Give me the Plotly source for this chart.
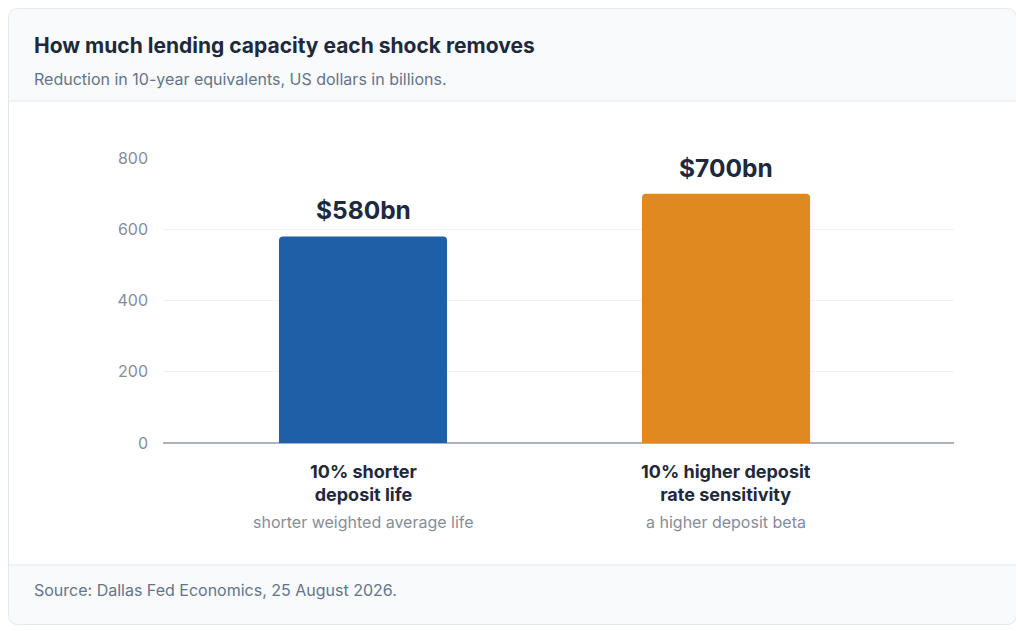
import plotly.graph_objects as go

# data
categories = ["10% shorter<br>deposit life", "10% higher deposit<br>rate sensitivity"]
descriptions = ["shorter weighted average life", "a higher deposit beta"]
values = [580, 700]
value_labels = ["$580bn", "$700bn"]
bar_colors = ["#1f5fa8", "#e0891f"]
y_ticks = [0, 200, 400, 600, 800]

# the page body has an 8px margin, so the figure sits at (8, 8)
OFF = 8
W, H = 1024 - OFF, 631 - OFF
L, R, T, B = 163, 954, 158, 443   # plot area in window pixels

FONT = "Inter, 'Noto Sans', sans-serif"
DARK = "#1e293b"
GREY = "#64748b"
LINE = "#e2e8f0"


def px(x):
    return (x - L) / (R - L)


def py(y):
    return (B - y) / (B - T)


def rounded_rect(x0, y0, x1, y1, r):
    # rounded rectangle path in paper coords
    rx = r / (R - L)
    ry = r / (B - T)
    a, b, c, d = px(x0), px(x1), py(y0), py(y1)
    return (f"M {a} {c - ry} Q {a} {c} {a + rx} {c} L {b - rx} {c} Q {b} {c} {b} {c - ry} "
            f"L {b} {d + ry} Q {b} {d} {b - rx} {d} L {a + rx} {d} Q {a} {d} {a} {d + ry} Z")


fig = go.Figure()

fig.add_trace(go.Bar(
    x=categories, y=values,
    marker=dict(color=bar_colors, cornerradius=4, line=dict(width=0)),
    width=0.463,
    hoverinfo="skip",
))

card = rounded_rect(8.5, 8.5, 1016.5, 624.5, 10)
shapes = [
    # card with header colour, white body, footer colour
    dict(type="path", path=card, xref="paper", yref="paper",
         fillcolor="#f8fafc", line=dict(width=0), layer="below"),
    dict(type="rect", x0=px(8.5), x1=px(1016.5), y0=py(101), y1=py(565), xref="paper", yref="paper",
         fillcolor="white", line=dict(width=0), layer="below"),
    dict(type="line", x0=px(8.5), x1=px(1016.5), y0=py(101), y1=py(101), xref="paper", yref="paper",
         line=dict(color=LINE, width=1), layer="below"),
    dict(type="line", x0=px(8.5), x1=px(1016.5), y0=py(565), y1=py(565), xref="paper", yref="paper",
         line=dict(color=LINE, width=1), layer="below"),
    dict(type="path", path=card, xref="paper", yref="paper",
         fillcolor="rgba(0,0,0,0)", line=dict(color=LINE, width=1), layer="below"),
]

annotations = [
    dict(text="<b>How much lending capacity each shock removes</b>", x=px(32), y=py(45),
         xref="paper", yref="paper", xanchor="left", yanchor="middle", showarrow=False,
         font=dict(size=21, color=DARK, family=FONT)),
    dict(text="Reduction in 10-year equivalents, US dollars in billions.", x=px(32), y=py(79),
         xref="paper", yref="paper", xanchor="left", yanchor="middle", showarrow=False,
         font=dict(size=16, color=GREY, family=FONT)),
    dict(text="Source: Dallas Fed Economics, 25 August 2026.", x=px(32), y=py(590),
         xref="paper", yref="paper", xanchor="left", yanchor="middle", showarrow=False,
         font=dict(size=16, color=GREY, family=FONT)),
]

for cat, desc, val, lab in zip(categories, descriptions, values, value_labels):
    annotations.append(dict(text=f"<b>{lab}</b>", x=cat, y=val, xref="x", yref="y",
                            yanchor="middle", yshift=26, showarrow=False,
                            font=dict(size=24.5, color=DARK, family=FONT)))
    annotations.append(dict(text=f"<b>{cat}</b>", x=cat, y=py(482.5), xref="x", yref="paper",
                            yanchor="middle", showarrow=False,
                            font=dict(size=18, color=DARK, family=FONT)))
    annotations.append(dict(text=desc, x=cat, y=py(522), xref="x", yref="paper",
                            yanchor="middle", showarrow=False,
                            font=dict(size=16, color="#858d99", family=FONT)))

fig.update_layout(
    width=W, height=H,
    margin=dict(l=L - OFF, r=1024 - R, t=T - OFF, b=631 - B),
    paper_bgcolor="white",
    plot_bgcolor="rgba(0,0,0,0)",
    font=dict(family=FONT),
    showlegend=False,
    shapes=shapes,
    annotations=annotations,
    xaxis=dict(range=[-0.551, 1.628], showticklabels=False, showgrid=False,
               zeroline=False, showline=False, fixedrange=True),
    yaxis=dict(range=[0, 800], tickvals=y_ticks, showgrid=True, gridcolor="#eef1f5",
               gridwidth=1, zeroline=True, zerolinecolor="#aab3bf", zerolinewidth=2,
               showline=False, ticklabelstandoff=14,
               tickfont=dict(size=16, color="#858d99", family=FONT), fixedrange=True),
)

fig.write_html("out.html")
